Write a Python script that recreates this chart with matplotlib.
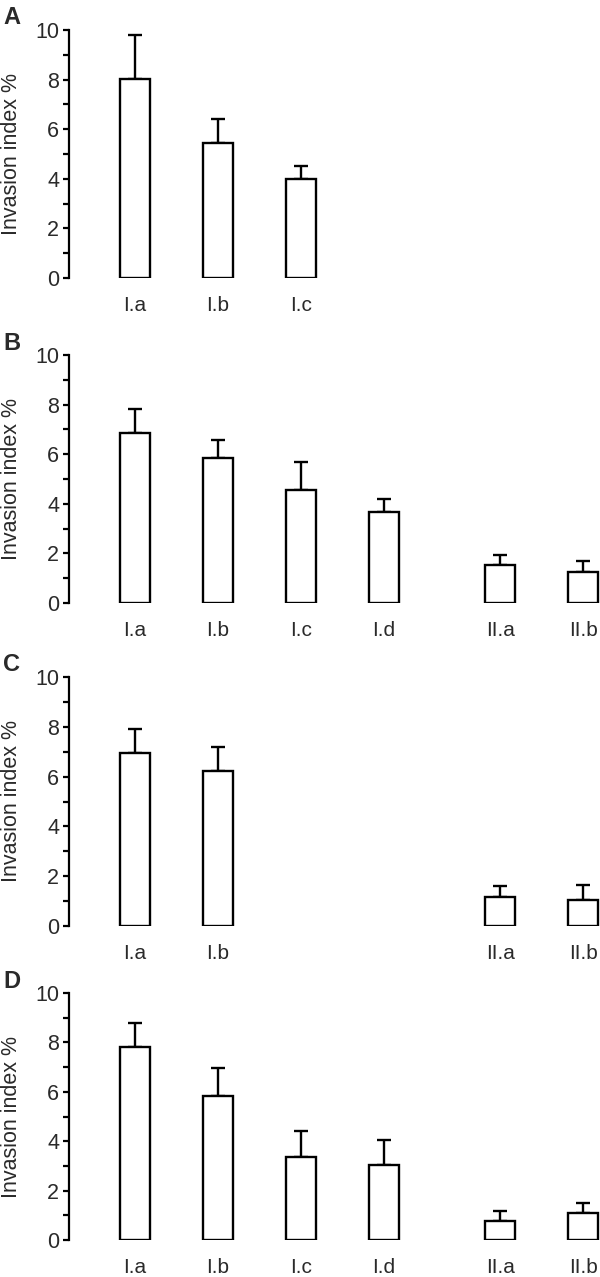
import matplotlib
matplotlib.use("Agg")
import matplotlib.pyplot as plt
import numpy as np

plt.rcParams['font.family'] = ['Liberation Sans', 'DejaVu Sans']

# ---- data ----
all_categories = ['I.a', 'I.b', 'I.c', 'I.d', 'II.a', 'II.b']

panel_letters = ['A', 'B', 'C', 'D']

cats_A = ['I.a', 'I.b', 'I.c']
mean_A = [8.03, 5.46, 3.98]
err_A = [1.78, 0.97, 0.54]

cats_B = ['I.a', 'I.b', 'I.c', 'I.d', 'II.a', 'II.b']
mean_B = [6.85, 5.86, 4.54, 3.66, 1.53, 1.26]
err_B = [0.99, 0.70, 1.16, 0.52, 0.39, 0.42]

cats_C = ['I.a', 'I.b', 'II.a', 'II.b']
mean_C = [6.94, 6.24, 1.18, 1.06]
err_C = [0.98, 0.94, 0.44, 0.60]

cats_D = ['I.a', 'I.b', 'I.c', 'I.d', 'II.a', 'II.b']
mean_D = [7.83, 5.84, 3.38, 3.03, 0.77, 1.08]
err_D = [0.96, 1.12, 1.05, 1.03, 0.41, 0.43]

y_ticks = [0, 2, 4, 6, 8, 10]
y_label = 'Invasion index %'

panels = [
    (cats_A, mean_A, err_A),
    (cats_B, mean_B, err_B),
    (cats_C, mean_C, err_C),
    (cats_D, mean_D, err_D),
]


def xpos(cat):
    i = all_categories.index(cat)
    return i + (0.4 if cat.startswith('II.') else 0.0)


W, H = 600, 1277
fig = plt.figure(figsize=(W / 100, H / 100), dpi=100)

# (y of value 0, y of value 10) in pixels from top
panel_px = [(278, 30), (603, 355), (926, 677), (1240, 993)]
left_px = 69
text_col = '#2a2a2a'
ax_w_px = W - left_px

for (cats, means, errs), letter, (y0, y10) in zip(panels, panel_letters, panel_px):
    ax = fig.add_axes([left_px / W, 1 - y0 / H, 1 - left_px / W, (y0 - y10) / H])
    xs = [xpos(c) for c in cats]
    ax.errorbar(xs, means, yerr=[np.zeros(len(errs)), errs], fmt='none',
                ecolor='black', elinewidth=1.7, capsize=5, capthick=1.7, zorder=1)
    ax.bar(xs, means, width=0.36, color='white', edgecolor='black',
           linewidth=1.7, zorder=2)
    ax.set_xlim(-0.795, 5.6)
    ax.set_ylim(0, 10)
    ax.set_yticks(y_ticks)
    ax.set_yticks([1, 3, 5, 7, 9], minor=True)
    ax.set_xticks(xs)
    ax.set_xticklabels(cats)
    for s in ['top', 'right', 'bottom']:
        ax.spines[s].set_visible(False)
    ax.spines['left'].set_linewidth(1.6)
    ax.spines['left'].set_bounds(0, 10)
    ax.tick_params(axis='y', which='both', direction='out', length=4, width=1.6,
                   labelsize=15.5, labelcolor=text_col, pad=3)
    ax.tick_params(axis='x', length=0, labelsize=15, labelcolor=text_col, pad=13)
    ax.set_ylabel(y_label, fontsize=15.5, color=text_col)
    ax.yaxis.set_label_coords((22 - left_px) / ax_w_px, 0.5)
    ax.patch.set_visible(False)
    fig.text(12 / W, 1 - (y10 - 12) / H, letter, fontsize=17, fontweight='bold',
             color=text_col, ha='center', va='center')

fig.savefig('out.png', dpi=100)
